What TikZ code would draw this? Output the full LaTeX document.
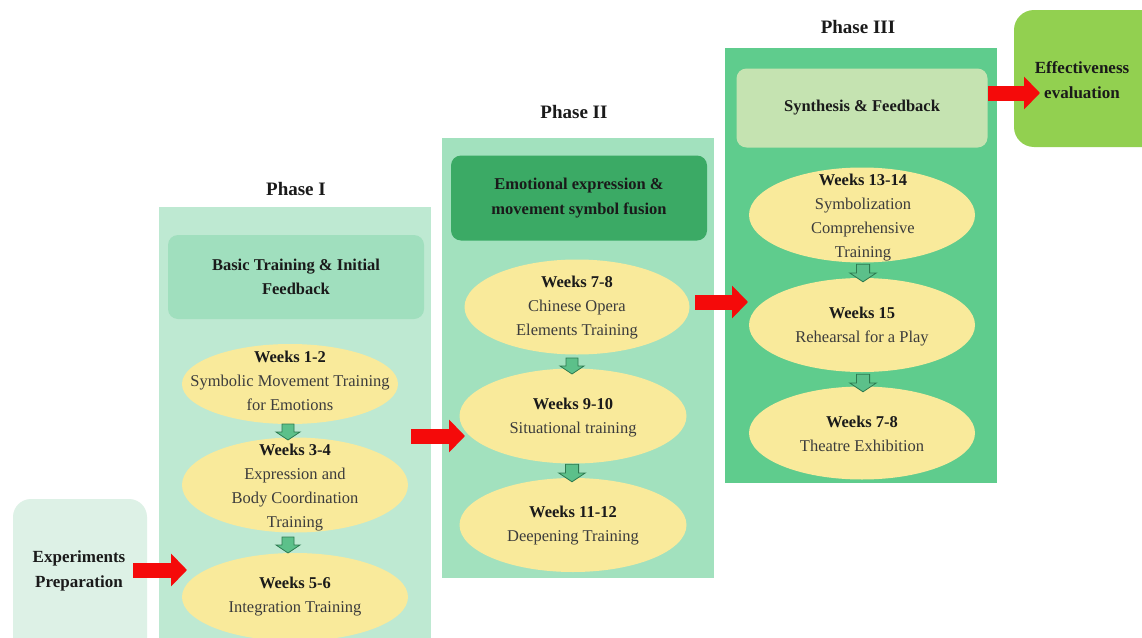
\documentclass[tikz,border=0pt]{standalone}
\usepackage{fontspec}
\setmainfont{Liberation Serif}
\usetikzlibrary{arrows.meta,shapes.geometric}
\definecolor{prepcol}{HTML}{DDF1E6}
\definecolor{ponecol}{HTML}{BEE9D2}
\definecolor{honecol}{HTML}{A0DFBE}
\definecolor{ptwocol}{HTML}{A2E1BE}
\definecolor{htwocol}{HTML}{3BAA65}
\definecolor{pthrcol}{HTML}{5FCC8D}
\definecolor{hthrcol}{HTML}{C5E3B1}
\definecolor{evalcol}{HTML}{92D050}
\definecolor{wkcol}{HTML}{F9EA9B}
\definecolor{arrred}{HTML}{F50A0A}
\definecolor{smfill}{HTML}{5CC08A}
\definecolor{smdraw}{HTML}{2E7A50}
\definecolor{bodytxt}{HTML}{3C3C3C}
\definecolor{boldtxt}{HTML}{1A1A1A}
\begin{document}
\begin{tikzpicture}[x=1pt,y=-1pt,
  panel/.style={rectangle,draw=none,anchor=north west,inner sep=0},
  hdr/.style={rectangle,rounded corners=10pt,draw=none,inner sep=0,align=center,
    font=\fontsize{16.5}{24.5}\selectfont\bfseries,text=boldtxt},
  phase/.style={font=\fontsize{19}{22}\selectfont\bfseries,text=boldtxt,inner sep=0},
  wk/.style={ellipse,fill=wkcol,draw=none,inner sep=0},
  wkt/.style={align=center,inner sep=0,font=\fontsize{16.5}{24}\selectfont,text=bodytxt},
  redarr/.style={draw=arrred,line width=15pt,-{Triangle[length=16pt,width=32pt]}},
  dn/.pic={\draw[fill=smfill,draw=smdraw,line width=0.8pt,line join=miter]
     (-6,-8)--(6,-8)--(6,0)--(12,0)--(0,8)--(-12,0)--(-6,0)--cycle;}
]
\useasboundingbox (0,0) rectangle (1142,637);
\fill[white] (0,0) rectangle (1142,637);

% Preparation
\fill[prepcol,rounded corners=18pt] (13,499) rectangle (147,660);
\node[align=center,inner sep=0,font=\fontsize{17}{25}\selectfont\bfseries,text=boldtxt] (prep) at (79,571) {Experiments\\Preparation};

% Phase I
\node[phase] (l1) at (296,189) {Phase I};
\node[panel,fill=ponecol,minimum width=272,minimum height=440] (p1) at (159,207) {};
\node[hdr,fill=honecol,minimum width=256,minimum height=84] (h1) at (296,277) {Basic Training \& Initial\\Feedback};
\node[wk,minimum width=216,minimum height=80] (e12) at (290,384) {};
\node[wkt] (t12) at (290,381) {\textbf{\color{boldtxt}Weeks 1-2}\\Symbolic Movement Training\\for Emotions};
\node[wk,minimum width=226,minimum height=95] (e34) at (295,485) {};
\node[wkt] (t34) at (295,488) {\textbf{\color{boldtxt}Weeks 3-4}\\Expression and\\Body Coordination\\Training};
\node[wk,minimum width=226,minimum height=88] (e56) at (295,597) {};
\node[wkt] (t56) at (295,597) {\textbf{\color{boldtxt}Weeks 5-6}\\Integration Training};
\pic at (288,432) {dn};
\pic at (288,545) {dn};

% Phase II
\node[phase] (l2) at (574,112) {Phase II};
\node[panel,fill=ptwocol,minimum width=272,minimum height=440] (p2) at (442,138) {};
\node[hdr,fill=htwocol,minimum width=256,minimum height=85] (h2) at (579,198) {Emotional expression \&\\movement symbol fusion};
\node[wk,minimum width=225,minimum height=95] (e78) at (577,307) {};
\node[wkt] (t78) at (577,308) {\textbf{\color{boldtxt}Weeks 7-8}\\Chinese Opera\\Elements Training};
\node[wk,minimum width=227,minimum height=95] (e910) at (573,416) {};
\node[wkt] (t910) at (573,418) {\textbf{\color{boldtxt}Weeks 9-10}\\Situational training};
\node[wk,minimum width=227,minimum height=94] (e1112) at (573,525) {};
\node[wkt] (t1112) at (573,526) {\textbf{\color{boldtxt}Weeks 11-12}\\Deepening Training};
\pic at (572,366) {dn};
\pic[scale=1.1] at (572,473) {dn};

% Phase III
\node[phase] (l3) at (858,27) {Phase III};
\node[panel,fill=pthrcol,minimum width=272,minimum height=435] (p3) at (725,48) {};
\node[hdr,fill=hthrcol,minimum width=251,minimum height=79] (h3) at (862,108) {Synthesis \& Feedback};
\node[wk,minimum width=226,minimum height=95] (e1314) at (862,215) {};
\node[wkt] (t1314) at (863,218) {\textbf{\color{boldtxt}Weeks 13-14}\\Symbolization\\Comprehensive\\Training};
\node[wk,minimum width=226,minimum height=94] (e15) at (862,325) {};
\node[wkt] (t15) at (862,327) {\textbf{\color{boldtxt}Weeks 15}\\Rehearsal for a Play};
\node[wk,minimum width=226,minimum height=93] (e78b) at (862,433) {};
\node[wkt] (t78b) at (862,434) {\textbf{\color{boldtxt}Weeks 7-8}\\Theatre Exhibition};
\pic[scale=1.1] at (863,273) {dn};
\pic[scale=1.1] at (863,383) {dn};

% Evaluation
\fill[evalcol,rounded corners=20pt] (1014,10) rectangle (1170,147);
\node[align=center,inner sep=0,font=\fontsize{17}{25}\selectfont\bfseries,text=boldtxt] (eval) at (1082,80) {Effectiveness\\evaluation};

% Red arrows
\coordinate (a1s) at (133,570); \coordinate (a1e) at (187,570);
\coordinate (a2s) at (411,436); \coordinate (a2e) at (465,436);
\coordinate (a3s) at (695,302); \coordinate (a3e) at (748,302);
\coordinate (a4s) at (988,93);  \coordinate (a4e) at (1040,93);
\draw[redarr] (a1s) -- (a1e);
\draw[redarr] (a2s) -- (a2e);
\draw[redarr] (a3s) -- (a3e);
\draw[redarr] (a4s) -- (a4e);
\end{tikzpicture}
\end{document}
